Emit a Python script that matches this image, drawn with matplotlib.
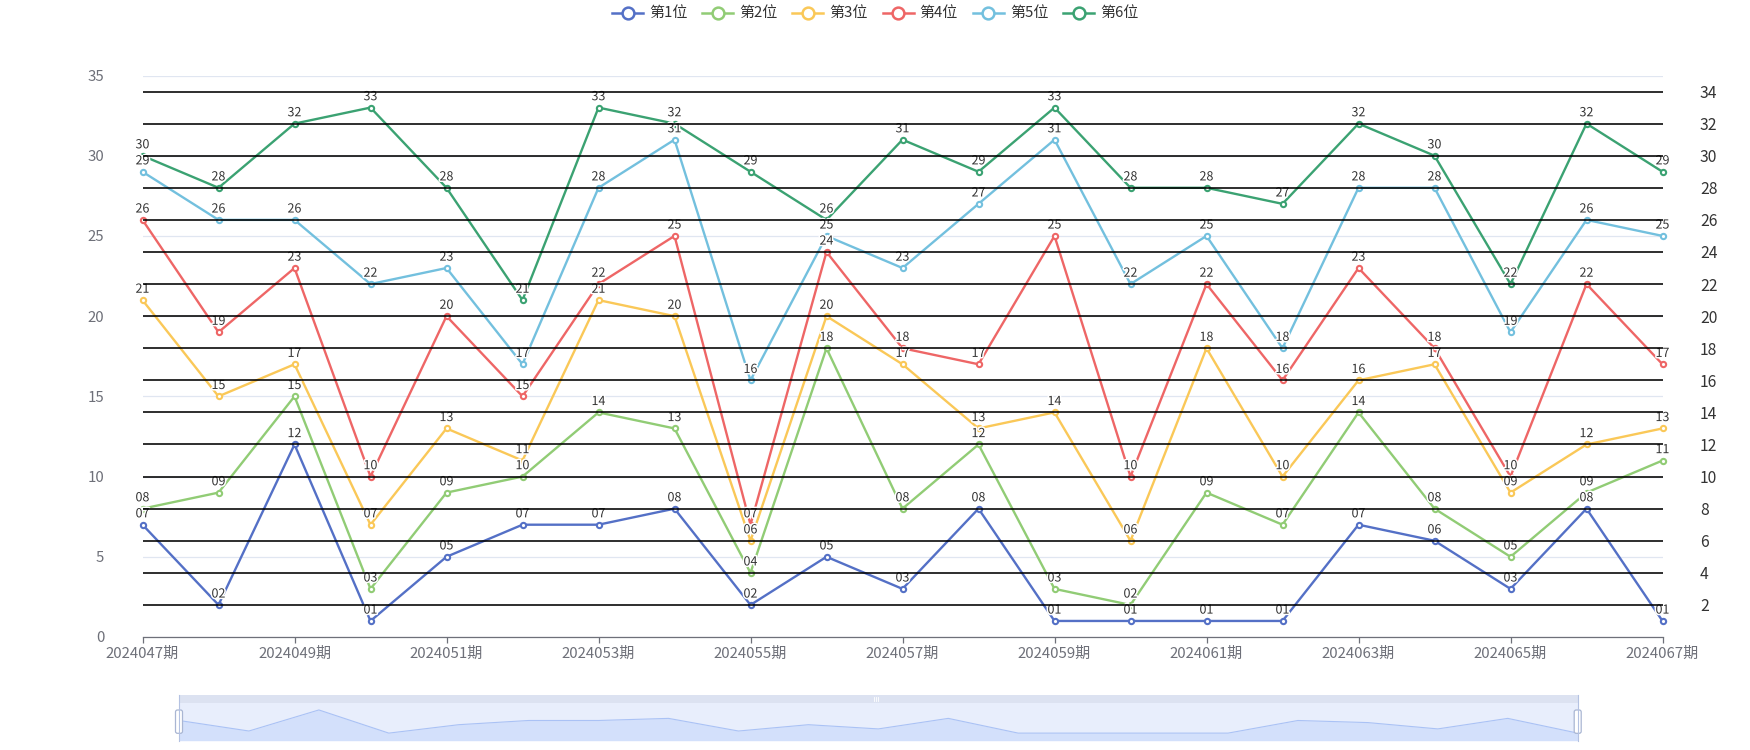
import matplotlib
matplotlib.use('Agg')
import matplotlib.pyplot as plt
from matplotlib.lines import Line2D
from matplotlib.patches import Rectangle, FancyBboxPatch
from matplotlib.transforms import IdentityTransform
import matplotlib.patheffects as pe

plt.rcParams['font.family'] = ['Noto Sans CJK SC', 'DejaVu Sans']

# ---------------- data ----------------
periods = ['2024047期', '2024048期', '2024049期', '2024050期', '2024051期', '2024052期',
           '2024053期', '2024054期', '2024055期', '2024056期', '2024057期', '2024058期',
           '2024059期', '2024060期', '2024061期', '2024062期', '2024063期', '2024064期',
           '2024065期', '2024066期', '2024067期']
series_names = ['第1位', '第2位', '第3位', '第4位', '第5位', '第6位']
pos1 = [7, 2, 12, 1, 5, 7, 7, 8, 2, 5, 3, 8, 1, 1, 1, 1, 7, 6, 3, 8, 1]
pos2 = [8, 9, 15, 3, 9, 10, 14, 13, 4, 18, 8, 12, 3, 2, 9, 7, 14, 8, 5, 9, 11]
pos3 = [21, 15, 17, 7, 13, 11, 21, 20, 6, 20, 17, 13, 14, 6, 18, 10, 16, 17, 9, 12, 13]
pos4 = [26, 19, 23, 10, 20, 15, 22, 25, 7, 24, 18, 17, 25, 10, 22, 16, 23, 18, 10, 22, 17]
pos5 = [29, 26, 26, 22, 23, 17, 28, 31, 16, 25, 23, 27, 31, 22, 25, 18, 28, 28, 19, 26, 25]
pos6 = [30, 28, 32, 33, 28, 21, 33, 32, 29, 26, 31, 29, 33, 28, 28, 27, 32, 30, 22, 32, 29]
left_ticks = [0, 5, 10, 15, 20, 25, 30, 35]
right_ticks = [2, 4, 6, 8, 10, 12, 14, 16, 18, 20, 22, 24, 26, 28, 30, 32, 34]

all_series = [pos1, pos2, pos3, pos4, pos5, pos6]
colors = ['#5470C6', '#91CC75', '#FAC858', '#EE6666', '#73C0DE', '#3BA272']

W, H = 1750, 750
fig = plt.figure(figsize=(W / 100, H / 100), dpi=100)

# plot area in pixels (from top)
px_l, px_r, px_top, px_bot = 142.5, 1662.5, 75.5, 637.0
ax = fig.add_axes([px_l / W, (H - px_bot) / H, (px_r - px_l) / W, (px_bot - px_top) / H])
x = list(range(len(periods)))
ax.set_xlim(0, len(periods) - 1)
ax.set_ylim(0, 35)

# light split lines of the left axis
ax.set_yticks(left_ticks)
ax.yaxis.grid(True, color='#E0E6F1', linewidth=0.9)
ax.set_axisbelow(True)
ax.tick_params(axis='y', length=0, pad=27.5, labelsize=10.8, labelcolor='#6E7079')

ax.set_xticks(x[::2])
ax.set_xticklabels(periods[::2])
ax.tick_params(axis='x', length=4.3, width=0.9, color='#6E7079', pad=2.5,
               labelsize=10.8, labelcolor='#6E7079')
for s in ['top', 'right', 'left']:
    ax.spines[s].set_visible(False)
ax.spines['bottom'].set_color('#6E7079')
ax.spines['bottom'].set_linewidth(0.9)

halo = [pe.withStroke(linewidth=2.2, foreground='white')]
for k, (vals, col) in enumerate(zip(all_series, colors)):
    ax.plot(x, vals, color=col, linewidth=1.7, marker='o', markersize=3.8,
            markerfacecolor='white', markeredgecolor=col, markeredgewidth=1.5,
            zorder=2 + k * 0.01, clip_on=False)
for k, vals in enumerate(all_series):
    for xi, v in zip(x, vals):
        ax.annotate(f"{v:02d}", (xi, v), xytext=(0, 5.3), textcoords='offset points',
                    ha='center', va='baseline', fontsize=9, color='#333333',
                    path_effects=halo, zorder=3, annotation_clip=False)

# right axis with black split lines drawn on top
ax2 = ax.twinx()
ax2.set_ylim(0, 35)
ax2.set_yticks(right_ticks)
ax2.yaxis.grid(True, color='black', linewidth=1.15)
ax2.tick_params(axis='y', length=0, pad=27, labelsize=11.3, labelcolor='#333333')
for s in ax2.spines.values():
    s.set_visible(False)

# ---------------- legend ----------------
leg_y = 1 - 13.4 / H
for i, (name, col) in enumerate(zip(series_names, colors)):
    x0 = 612 + i * 90.2
    fig.add_artist(Line2D([x0 / W, (x0 + 31) / W], [leg_y, leg_y], transform=fig.transFigure,
                          color=col, linewidth=1.8))
    fig.add_artist(Line2D([(x0 + 15.5) / W], [leg_y], transform=fig.transFigure,
                          marker='o', markersize=8.5, markerfacecolor='white',
                          markeredgecolor=col, markeredgewidth=1.8, linestyle='none'))
    fig.text((x0 + 37) / W, leg_y, name, ha='left', va='center', fontsize=10.8,
             color='#333333')

# ---------------- data zoom slider ----------------
s_l, s_r, s_top, s_bot = 179.0, 1577.7, 703.0, 740.7
sax = fig.add_axes([s_l / W, (H - s_bot) / H, (s_r - s_l) / W, (s_bot - s_top) / H])
sax.set_xlim(0, len(periods) - 1)
sax.set_ylim(-2.6, 15.3)
sax.set_facecolor('#E8EEFC')
sax.fill_between(x, pos1, -2.6, color='#D3E0FB', linewidth=0)
sax.plot(x, pos1, color='#AAC2F5', linewidth=0.8)
sax.set_xticks([])
sax.set_yticks([])
for s in sax.spines.values():
    s.set_visible(False)

ident = IdentityTransform()
fig.add_artist(Rectangle((s_l, H - s_top), s_r - s_l, 8, transform=ident,
                         facecolor='#DCE2F1', edgecolor='none'))
for xe in (s_l, s_r):
    fig.add_artist(Line2D([xe, xe], [H - s_bot, H - s_top + 8], transform=ident,
                          color='#B4C2E2', linewidth=0.8))
    fig.add_artist(FancyBboxPatch((xe - 3.5, H - 733.3), 7, 23.3,
                                  boxstyle='round,pad=0,rounding_size=2',
                                  transform=ident, facecolor='white',
                                  edgecolor='#A9B6D3', linewidth=0.9))
for dx in (-2, 0, 2):
    fig.add_artist(Line2D([876 + dx, 876 + dx], [H - 701, H - 697], transform=ident,
                          color='white', linewidth=0.6))

fig.savefig('out.png', dpi=100)
